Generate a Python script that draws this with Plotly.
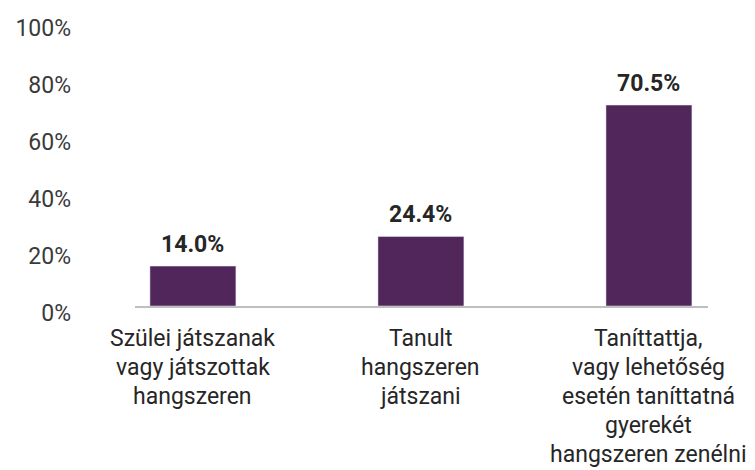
import plotly.graph_objects as go

categories = [
    "Szülei játszanak<br>vagy játszottak<br>hangszeren",
    "Tanult<br>hangszeren<br>játszani",
    "Taníttattja,<br>vagy lehetőség<br>esetén taníttatná<br>gyerekét<br>hangszeren zenélni",
]
values = [14.0, 24.4, 70.5]
y_ticks = [0, 20, 40, 60, 80, 100]
y_tick_labels = ["0%", "20%", "40%", "60%", "80%", "100%"]

BAR_COLOR = "#50265B"
FONT = "Roboto, 'DejaVu Sans', sans-serif"

fig = go.Figure(go.Bar(
    x=list(range(len(values))),
    y=values,
    marker_color=BAR_COLOR,
    width=0.377,
    hoverinfo="skip",
))

# value labels above bars
for i, v in enumerate(values):
    fig.add_annotation(
        x=i, y=v, xref="x", yref="y",
        text=f"<b>{v:.1f}%</b>",
        showarrow=False, yanchor="bottom", yshift=6,
        font=dict(family=FONT, size=23, color="#262626"),
    )

# category labels, one annotation per line
for i, label in enumerate(categories):
    for j, line in enumerate(label.split("<br>")):
        fig.add_annotation(
            x=i, y=0, xref="x", yref="y",
            text=line, showarrow=False, yanchor="middle",
            yshift=-(32 + j * 29),
            borderpad=0,
            font=dict(family=FONT, size=23, color="#262626"),
        )

# page body has an 8px margin, so the figure is sized to fit inside it
fig.update_layout(
    width=747,
    height=462,
    margin=dict(l=127, r=47, t=13, b=164),
    plot_bgcolor="white",
    paper_bgcolor="white",
    showlegend=False,
    font=dict(family=FONT, size=23, color="#333333"),
)
fig.update_xaxes(
    range=[-0.254, 2.259],
    showticklabels=False,
    showgrid=False,
    zeroline=False,
    showline=True,
    linecolor="#BFBFBF",
    linewidth=2,
    ticks="",
    automargin=False,
)
fig.update_yaxes(
    range=[0, 100],
    tickvals=y_ticks,
    ticktext=y_tick_labels,
    showgrid=False,
    zeroline=False,
    showline=False,
    ticks="",
    ticklabelstandoff=63,
    ticklabelshift=7,
    automargin=False,
    tickfont=dict(family=FONT, size=23, color="#3a3a3a"),
)

fig.write_html("out.html")
